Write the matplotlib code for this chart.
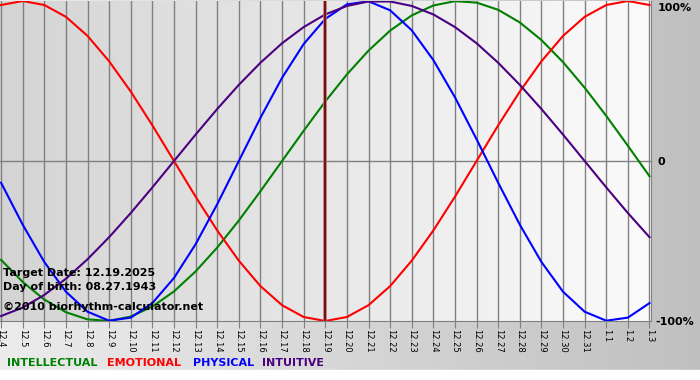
import numpy as np
import matplotlib.pyplot as plt
from matplotlib.colors import LinearSegmentedColormap

# day labels (12.4 .. 1.3)
dates = ["12.%d" % d for d in range(4, 32)] + ["1.1", "1.2", "1.3"]
target_idx = 15  # 12.19

# cycle values, one per day
physical = [-0.136, -0.398, -0.631, -0.817, -0.942, -0.998, -0.979, -0.888, -0.731, -0.520,
            -0.270, 0.000, 0.270, 0.520, 0.731, 0.888, 0.979, 0.998, 0.942, 0.817,
            0.631, 0.398, 0.136, -0.136, -0.398, -0.631, -0.817, -0.942, -0.998, -0.979, -0.888]
emotional = [0.975, 1.000, 0.975, 0.901, 0.782, 0.623, 0.434, 0.223, 0.000, -0.223,
             -0.434, -0.623, -0.782, -0.901, -0.975, -1.000, -0.975, -0.901, -0.782, -0.623,
             -0.434, -0.223, 0.000, 0.223, 0.434, 0.623, 0.782, 0.901, 0.975, 1.000, 0.975]
intellectual = [-0.618, -0.756, -0.866, -0.945, -0.990, -0.999, -0.972, -0.910, -0.815, -0.690,
                -0.541, -0.372, -0.189, 0.000, 0.189, 0.372, 0.541, 0.690, 0.815, 0.910,
                0.972, 0.999, 0.990, 0.945, 0.866, 0.756, 0.618, 0.458, 0.282, 0.095, -0.095]
intuitive = [-0.969, -0.916, -0.837, -0.736, -0.614, -0.476, -0.325, -0.165, 0.000, 0.165,
             0.325, 0.476, 0.614, 0.736, 0.837, 0.916, 0.969, 0.997, 0.997, 0.969,
             0.916, 0.837, 0.736, 0.614, 0.476, 0.325, 0.165, 0.000, -0.165, -0.325, -0.476]

series = [("INTELLECTUAL", intellectual, "#008000"),
          ("EMOTIONAL", emotional, "#ff0000"),
          ("PHYSICAL", physical, "#0000ff"),
          ("INTUITIVE", intuitive, "#4b0082")]

W, H = 700, 380
fig = plt.figure(figsize=(W / 100, H / 100), dpi=100)

# outer background
bg = fig.add_axes([0, 0, 1, 1], zorder=-5)
bg_cmap = LinearSegmentedColormap.from_list("bg", ["#ececec", "#c0c0c0"])
bg.imshow(np.linspace(0, 1, 256)[None, :], cmap=bg_cmap, aspect="auto",
          extent=[0, W, 10, H])
bg.axhspan(0, 10, color="white")
bg.set_xlim(0, W)
bg.set_ylim(0, H)
bg.axis("off")

# plot area
ax = fig.add_axes([0, (H - 321) / H, 651 / W, 320 / H])
x = np.arange(len(dates))
ax.set_xlim(-0.05, 30.07)
ax.set_ylim(-1.0, 1.0)
pa_cmap = LinearSegmentedColormap.from_list("pa", ["#d4d4d4", "#fbfbfb"])
ax.imshow(np.linspace(0, 1, 256)[None, :], cmap=pa_cmap, aspect="auto",
          extent=[-0.05, 30.07, -1.0, 1.0], zorder=0)

for xi in x:
    ax.axvline(xi, color="#808080", lw=1, zorder=1)
ax.axhline(0, color="#808080", lw=1, zorder=1)

for name, vals, col in series:
    ax.plot(x, vals, color=col, lw=1.5, zorder=3)

ax.axvline(target_idx, color="#c07070", lw=2.6, zorder=4)
ax.axvline(target_idx, color="#701010", lw=1.4, zorder=4)

ax.set_xticks(x)
ax.set_xticklabels(dates, rotation=-90, fontsize=6)
ax.tick_params(axis="x", length=5, color="#808080", pad=1)
ax.set_yticks([])
for s in ["left", "top"]:
    ax.spines[s].set_visible(False)
for s in ["right", "bottom"]:
    ax.spines[s].set_color("#808080")

def px(xp, yp):
    return xp / W, 1 - yp / H

fs = 8
fig.text(*px(3, 276), "Target Date: 12.19.2025", fontsize=fs, fontweight="bold", zorder=10)
fig.text(*px(3, 290), "Day of birth: 08.27.1943", fontsize=fs, fontweight="bold", zorder=10)
fig.text(*px(3, 310), "\u00a92010 biorhythm-calculator.net", fontsize=fs, fontweight="bold", zorder=10)

fig.text(*px(658, 8), "100%", fontsize=fs, fontweight="bold", va="center")
fig.text(*px(658, 162), "0", fontsize=fs, fontweight="bold", va="center")
fig.text(*px(655, 322), "-100%", fontsize=fs, fontweight="bold", va="center")

legend_x = [7, 107, 193, 262]
for lx, (name, vals, col) in zip(legend_x, series):
    fig.text(*px(lx, 366), name, fontsize=fs, fontweight="bold", color=col)

fig.savefig("out.png", dpi=100)
